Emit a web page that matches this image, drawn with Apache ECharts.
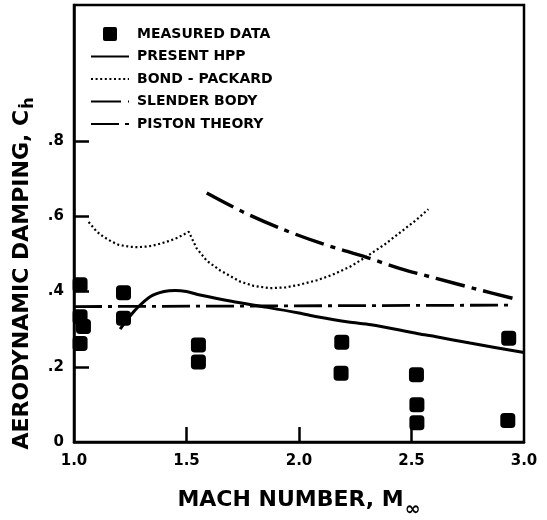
<!DOCTYPE html>
<html style="height: 100%">
<head>
<meta charset="utf-8">
<title>Aerodynamic damping</title>
<script src="https://cdn.jsdelivr.net/npm/echarts@6/dist/echarts.min.js"></script>
</head>
<body style="height: 100%; margin: 0; background: #fff">
<div id="container" style="width: 547px; height: 520px"></div>
<script type="text/javascript">
// measured points (Mach, Ch)
var measuredMach = [1.027, 1.027, 1.042, 1.027, 1.22, 1.22, 1.553, 1.553, 2.19, 2.187, 2.522, 2.524, 2.524, 2.932, 2.928];
var measuredCh = [0.418, 0.333, 0.307, 0.262, 0.397, 0.329, 0.258, 0.213, 0.265, 0.183, 0.179, 0.099, 0.051, 0.276, 0.057];

// present HPP
var hppMach = [1.205, 1.24, 1.28, 1.34, 1.40, 1.45, 1.50, 1.56, 1.70, 1.86, 2.00, 2.08, 2.22, 2.32, 2.53, 2.61, 2.76, 3.00];
var hppCh = [0.300, 0.328, 0.356, 0.387, 0.400, 0.403, 0.400, 0.391, 0.374, 0.358, 0.343, 0.333, 0.319, 0.312, 0.288, 0.280, 0.263, 0.238];

// Bond-Packard
var bpMach = [1.065, 1.10, 1.13, 1.17, 1.20, 1.25, 1.28, 1.33, 1.37, 1.42, 1.46, 1.51, 1.545, 1.59, 1.65, 1.74, 1.80, 1.87, 1.94, 2.00, 2.08, 2.15, 2.23, 2.30, 2.38, 2.46, 2.52, 2.575];
var bpCh = [0.585, 0.560, 0.546, 0.532, 0.524, 0.519, 0.518, 0.520, 0.525, 0.534, 0.543, 0.559, 0.515, 0.482, 0.456, 0.426, 0.415, 0.409, 0.411, 0.418, 0.430, 0.445, 0.467, 0.493, 0.525, 0.562, 0.590, 0.619];

// slender body
var sbMach = [1.59, 1.75, 1.93, 2.10, 2.30, 2.45, 2.61, 2.78, 2.95];
var sbCh = [0.662, 0.612, 0.565, 0.528, 0.491, 0.461, 0.435, 0.408, 0.382];

// piston theory
var ptMach = [1.0, 2.945];
var ptCh = [0.360, 0.364];

var xTicks = [1.0, 1.5, 2.0, 2.5, 3.0];
var yTicks = [0, 0.2, 0.4, 0.6, 0.8];

function pairs(xs, ys) {
	var out = [];
	for (var i = 0; i < xs.length; i++) {
		out.push([xs[i], ys[i]]);
	}
	return out;
}

var FONT = '"DejaVu Sans", sans-serif';
var noMark = {color: 'rgba(0,0,0,0)', borderWidth: 0, opacity: 0};

var myChart = echarts.init(document.getElementById('container'), null, {renderer: 'canvas'});

var option = {
	animation: false,
	backgroundColor: '#fff',
	grid: {
		left: 74,
		right: 23,
		top: 5,
		bottom: 78,
		outerBoundsMode: 'none',
		show: true,
		borderColor: '#000',
		borderWidth: 2.5
	},
	legend: {
		left: 85,
		top: 22,
		orient: 'vertical',
		itemWidth: 38,
		itemHeight: 14,
		itemGap: 8.5,
		textStyle: {
			fontFamily: FONT,
			fontWeight: 'bold',
			fontSize: 14,
			color: '#000',
			padding: [0, 0, 0, 3]
		},
		data: [
			{name: 'MEASURED DATA', icon: 'path://M2,0 L12,0 Q14,0 14,2 L14,12 Q14,14 12,14 L2,14 Q0,14 0,12 L0,2 Q0,0 2,0 Z', itemStyle: {color: '#000', opacity: 1}},
			{name: 'PRESENT HPP', itemStyle: noMark},
			{name: 'BOND - PACKARD', itemStyle: noMark},
			{name: 'SLENDER BODY', itemStyle: noMark},
			{name: 'PISTON THEORY', itemStyle: noMark}
		]
	},
	xAxis: {
		type: 'value',
		min: 1.0,
		max: 3.0,
		interval: 0.5,
		name: '{t|MACH NUMBER, M}{s|∞}',
		nameLocation: 'middle',
		nameGap: 47,
		nameTextStyle: {
			rich: {
				t: {fontFamily: FONT, fontWeight: 'bold', fontSize: 22, color: '#000', lineHeight: 24, verticalAlign: 'top'},
				s: {fontFamily: FONT, fontWeight: 'bold', fontSize: 19, color: '#000', lineHeight: 20, padding: [12, 0, 0, 1], verticalAlign: 'top'}
			}
		},
		axisLine: {lineStyle: {color: '#000', width: 2.5}},
		axisTick: {
			inside: true,
			length: 15,
			customValues: [1.5, 2.0, 2.5],
			lineStyle: {color: '#000', width: 2.5}
		},
		axisLabel: {
			customValues: xTicks,
			margin: 12,
			fontFamily: FONT,
			fontWeight: 'bold',
			fontSize: 15,
			color: '#000',
			formatter: function (v) { return v.toFixed(1); }
		},
		splitLine: {show: false}
	},
	yAxis: {
		type: 'value',
		min: 0,
		max: 1.162,
		interval: 0.2,
		name: '{t|AERODYNAMIC DAMPING, C}{s|ḣ}',
		nameLocation: 'middle',
		nameRotate: 90,
		nameGap: 38,
		nameTextStyle: {
			padding: [0, 100, 0, 0],
			rich: {
				t: {fontFamily: FONT, fontWeight: 'bold', fontSize: 22, color: '#000', lineHeight: 24, verticalAlign: 'top'},
				s: {fontFamily: FONT, fontWeight: 'bold', fontSize: 16, color: '#000', lineHeight: 18, padding: [10, 0, 0, 1], verticalAlign: 'top'}
			}
		},
		axisLine: {lineStyle: {color: '#000', width: 2.5}},
		axisTick: {
			inside: true,
			length: 15,
			customValues: [0.2, 0.4, 0.6, 0.8],
			lineStyle: {color: '#000', width: 2.5}
		},
		axisLabel: {
			customValues: yTicks,
			margin: 10,
			fontFamily: FONT,
			fontWeight: 'bold',
			fontSize: 15,
			color: '#000',
			formatter: function (v) { return v === 0 ? '0' : v.toFixed(1).replace(/^0/, ''); }
		},
		splitLine: {show: false}
	},
	series: [{
		name: 'MEASURED DATA',
		type: 'scatter',
		symbol: 'roundRect',
		symbolSize: 15,
		itemStyle: {color: '#000', opacity: 1},
		data: pairs(measuredMach, measuredCh),
		z: 5
	}, {
		name: 'PRESENT HPP',
		type: 'line',
		smooth: 0.3,
		showSymbol: false,
		symbol: 'none',
		itemStyle: {color: '#000'},
		lineStyle: {color: '#000', width: 3},
		data: pairs(hppMach, hppCh)
	}, {
		name: 'BOND - PACKARD',
		type: 'line',
		showSymbol: false,
		symbol: 'none',
		itemStyle: {color: '#000'},
		lineStyle: {color: '#000', width: 2.2, type: [2, 2.6]},
		data: pairs(bpMach, bpCh)
	}, {
		name: 'SLENDER BODY',
		type: 'line',
		smooth: 0.3,
		showSymbol: false,
		symbol: 'none',
		itemStyle: {color: '#000'},
		lineStyle: {color: '#000', width: 3.4, type: [30, 7, 5, 7]},
		data: pairs(sbMach, sbCh)
	}, {
		name: 'PISTON THEORY',
		type: 'line',
		showSymbol: false,
		symbol: 'none',
		itemStyle: {color: '#000'},
		lineStyle: {color: '#000', width: 2.8, type: [28, 6, 4, 6]},
		data: pairs(ptMach, ptCh)
	}]
};

myChart.setOption(option);
</script>
</body>
</html>
